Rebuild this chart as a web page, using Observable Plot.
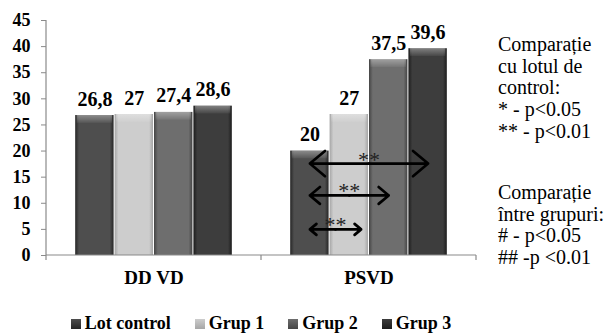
<!DOCTYPE html>
<html><head><meta charset="utf-8">
<script src="https://cdn.jsdelivr.net/npm/d3@7"></script>
<script src="https://cdn.jsdelivr.net/npm/@observablehq/plot@0.6"></script>
<style>
body{margin:0;background:#fff;}
#wrap{position:relative;width:613px;height:334px;font-family:"Liberation Serif","Times New Roman",serif;color:#000;}
.note{position:absolute;left:498px;font-size:20px;line-height:21.7px;white-space:nowrap;}
#legend{position:absolute;top:313px;left:0;width:522px;display:flex;justify-content:center;gap:24px;font-weight:bold;font-size:18px;line-height:20px;}
.sw{display:inline-block;width:10px;height:10px;margin-right:4px;vertical-align:0px;}
</style></head><body><div id="wrap"></div>
<script>
// ---- data ----
const categories = ["DD VD", "PSVD"];
const series = ["Lot control", "Grup 1", "Grup 2", "Grup 3"];
const lotControl = [26.8, 20];
const grup1 = [27, 27];
const grup2 = [27.4, 37.5];
const grup3 = [28.6, 39.6];
const yTicks = [0, 5, 10, 15, 20, 25, 30, 35, 40, 45];
// significance arrows (PSVD), x in series-slot units
const arrowCategory = ["PSVD", "PSVD", "PSVD"];
const arrowFrom = [0.5, 0.5, 0.5];
const arrowTo = [3.5, 2.5, 1.8];
const arrowY = [17.6, 11.5, 5];
const arrowLabel = ["**", "**", "**"];
const note1 = ["Comparație", "cu lotul de", "control:", "* - p<0.05", "** - p<0.01"];
const note2 = ["Comparație", "între grupuri:", "# - p<0.05", "## -p <0.01"];
// gradient stops per series: [edge, center]
const seriesShades = [["#262626", "#4e4e4e"], ["#a6a6a6", "#cdcdcd"], ["#454545", "#6e6e6e"], ["#1c1c1c", "#3d3d3d"]];

const FONT = "Liberation Serif, Times New Roman, serif";
const valuesBySeries = [lotControl, grup1, grup2, grup3];
const rows = [];
categories.forEach((c, ci) => series.forEach((s, si) => rows.push({category: c, series: s, idx: si, value: valuesBySeries[si][ci]})));
const arrows = arrowFrom.map((f, i) => ({category: arrowCategory[i], from: f, to: arrowTo[i], mid: (f + arrowTo[i]) / 2, y: arrowY[i], label: arrowLabel[i]}));
const fmt = v => String(v).replace(".", ",");
const pad = 0.728;
const arrowStyle = {stroke: "#000", strokeWidth: 2.7, headLength: 13, headAngle: 80, bend: 0, insetStart: 0, insetEnd: 0};

const chart = Plot.plot({
  width: 613, height: 295,
  marginLeft: 45, marginRight: 137, marginTop: 20, marginBottom: 40,
  style: {fontFamily: FONT, fontSize: "18px", color: "#000", background: "transparent"},
  fx: {domain: categories, padding: 0, label: null},
  x: {domain: [-pad, series.length + pad], axis: null},
  y: {domain: [0, 45], label: null},
  color: {type: "identity"},
  marks: [
    Plot.axisY({ticks: yTicks, tickSize: 5, tickPadding: 11, label: null, fontWeight: "bold", fontSize: 18, fontFamily: FONT, stroke: "#8a8a8a", fill: "#000", tickFormat: d => d}),
    Plot.axisFx({anchor: "bottom", tickSize: 0, tickPadding: 15, label: null, fontWeight: "bold", fontSize: 19, fontFamily: FONT, fill: "#000"}),
    Plot.rectY(rows, {fx: "category", x1: d => d.idx, x2: d => d.idx + 1, y: "value", fill: d => `url(#grad${d.idx})`, insetLeft: 0.5, insetRight: 0.5}),
    Plot.rectY(rows, {fx: "category", x1: d => d.idx, x2: d => d.idx + 1, y1: d => d.value - 1.5, y2: "value", fill: "url(#bevel)", insetLeft: 2, insetRight: 2}),
    Plot.text(rows, {fx: "category", x: d => d.idx + 0.5, y: "value", text: d => fmt(d.value), dy: -10, lineAnchor: "bottom", fontWeight: "bold", fontSize: 20, fontFamily: FONT, fill: "#000"}),
    Plot.arrow(arrows, {fx: "category", x1: "mid", x2: "from", y1: "y", y2: "y", ...arrowStyle}),
    Plot.arrow(arrows, {fx: "category", x1: "mid", x2: "to", y1: "y", y2: "y", ...arrowStyle}),
    Plot.text(arrows, {fx: "category", x: "mid", y: "y", text: "label", dy: -4, fontSize: 22, fontFamily: FONT, fill: "#222"})
  ]
});

const svg = d3.select(chart);
const defs = svg.append("defs");
seriesShades.forEach(([edge, mid], i) => {
  const g = defs.append("linearGradient").attr("id", "grad" + i).attr("x1", "0").attr("x2", "1").attr("y1", "0").attr("y2", "0");
  g.append("stop").attr("offset", "0%").attr("stop-color", edge);
  g.append("stop").attr("offset", "10%").attr("stop-color", mid);
  g.append("stop").attr("offset", "90%").attr("stop-color", mid);
  g.append("stop").attr("offset", "100%").attr("stop-color", edge);
});
const bev = defs.append("linearGradient").attr("id", "bevel").attr("x1", "0").attr("x2", "0").attr("y1", "0").attr("y2", "1");
bev.append("stop").attr("offset", "0%").attr("stop-color", "#fff").attr("stop-opacity", 0.35);
bev.append("stop").attr("offset", "100%").attr("stop-color", "#fff").attr("stop-opacity", 0.05);

const fx = chart.scale("fx"), y = chart.scale("y");
const y0 = y.apply(0), yTop = y.apply(45);
const left = fx.apply(categories[0]);
const right = fx.apply(categories[categories.length - 1]) + fx.bandwidth;
const axisG = svg.append("g").attr("stroke", "#8a8a8a").attr("stroke-width", 1.2);
axisG.append("line").attr("x1", left).attr("x2", left).attr("y1", yTop).attr("y2", y0);
axisG.append("line").attr("x1", left).attr("x2", right).attr("y1", y0).attr("y2", y0);
const bounds = categories.map(c => fx.apply(c)).concat([right]);
bounds.forEach(b => axisG.append("line").attr("x1", b).attr("x2", b).attr("y1", y0).attr("y2", y0 + 5));

const wrap = document.getElementById("wrap");
wrap.appendChild(chart);
chart.style.position = "absolute"; chart.style.left = "0"; chart.style.top = "0";

const n1 = document.createElement("div"); n1.className = "note"; n1.style.top = "34px";
n1.innerHTML = note1.map(t => t.replace(/</g, "&lt;")).join("<br>");
wrap.appendChild(n1);
const n2 = document.createElement("div"); n2.className = "note"; n2.style.top = "182px";
n2.innerHTML = note2.map(t => t.replace(/</g, "&lt;")).join("<br>");
wrap.appendChild(n2);

const lg = document.createElement("div"); lg.id = "legend";
series.forEach((s, i) => {
  const it = document.createElement("span");
  const sw = document.createElement("span"); sw.className = "sw";
  sw.style.background = `linear-gradient(to bottom, ${seriesShades[i][1]}, ${seriesShades[i][0]})`;
  it.appendChild(sw); it.appendChild(document.createTextNode(s));
  lg.appendChild(it);
});
wrap.appendChild(lg);
</script></body></html>
